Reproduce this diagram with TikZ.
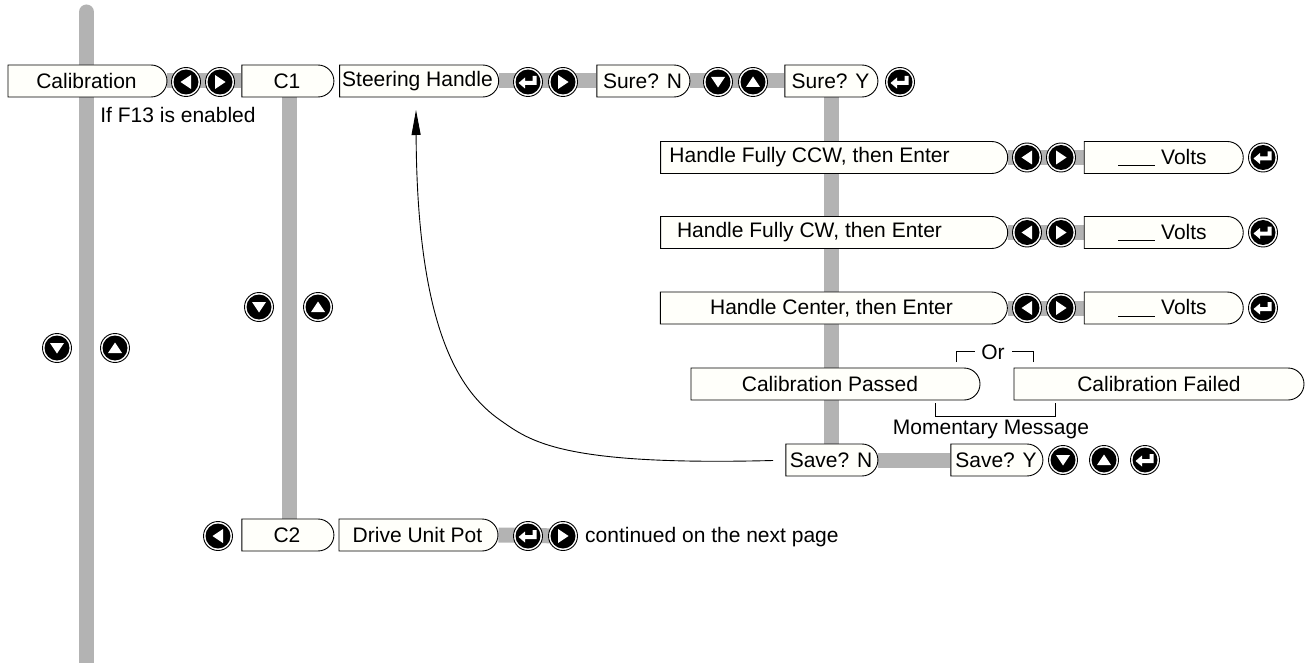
\documentclass[tikz,border=0pt]{standalone}
\usepackage{fontspec}
\setmainfont{Liberation Sans}
\usetikzlibrary{shapes.misc,backgrounds,arrows.meta}
\definecolor{pillfill}{HTML}{FFFFFA}
\definecolor{bargray}{HTML}{B3B3B3}
\tikzset{
  pillbox/.style={rounded rectangle,rounded rectangle left arc=none,draw=black,line width=0.9pt,fill=pillfill,inner sep=0pt,align=center},
  btnbox/.style={circle,draw=black,line width=0.9pt,fill=white,minimum size=29pt,inner sep=0pt},
  bar/.style={draw=bargray,line width=15pt},
  lbl/.style={inner sep=0pt,anchor=center},
  thinline/.style={draw=black,line width=0.8pt}
}
\newcommand{\pill}[6]{% name,x0,x1,ycenter,xoff,text
  \pgfmathsetmacro{\pw}{#3-#2}\pgfmathsetmacro{\pc}{(#2+#3)/2}
  \node[pillbox,minimum width=\pw pt,minimum height=32pt] (#1) at (\pc,#4) {\hspace*{#5pt}#6};}
\newcommand{\btn}[4]{% name,x,y,kind
  \node[btnbox] (#1) at (#2,#3) {};
  \fill[black] (#1.center) circle (12.5);
  \begin{scope}[shift={(#1.center)}]
  \ifcase#4
    \fill[white] (5,-7) -- (5,7) -- (-5.5,0) -- cycle;
  \or
    \fill[white] (-5,-7) -- (-5,7) -- (5.5,0) -- cycle;
  \or
    \fill[white] (-7,-5) -- (7,-5) -- (0,5.5) -- cycle;
  \or
    \fill[white] (-7,5) -- (7,5) -- (0,-5.5) -- cycle;
  \or
    \fill[white] (8.5,-6) -- (8.5,3) -- (-3,3) -- (-3,6.5) -- (-9.5,1) -- (-3,-4.5) -- (-3,-1) -- (4.5,-1) -- (4.5,-6) -- cycle;
  \fi
  \end{scope}}
\begin{document}
\begin{tikzpicture}[x=1pt,y=-1pt,font=\fontsize{21}{24}\selectfont]
\useasboundingbox (0,0) rectangle (1306,663);
% pills
\pill{cal}{7}{166}{81}{0}{Calibration}
\pill{cone}{241}{333}{81}{0}{C1}
\pill{steer}{338}{497}{81}{0}{\raisebox{3pt}{Steering Handle}}
\pill{suren}{596}{689}{81}{0}{Sure? N}
\pill{surey}{784}{877}{81}{0}{Sure? Y}
\pill{ccw}{659}{1006}{157.5}{-46}{\raisebox{-1pt}{Handle Fully CCW, then Enter}}
\pill{vone}{1083}{1242}{157.5}{0}{\underline{\hspace{37pt}} Volts}
\pill{cw}{659}{1006}{232.5}{-46}{\raisebox{-1pt}{Handle Fully CW, then Enter}}
\pill{vtwo}{1083}{1242}{232.5}{0}{\underline{\hspace{37pt}} Volts}
\pill{cen}{659}{1006}{308}{-2}{\raisebox{-1pt}{Handle Center, then Enter}}
\pill{vthree}{1083}{1242}{308}{0}{\underline{\hspace{37pt}} Volts}
\pill{pass}{690}{979}{384}{-9}{Calibration Passed}
\pill{fail}{1013}{1303}{384}{2}{Calibration Failed}
\pill{saven}{785}{877}{460}{0}{Save? N}
\pill{savey}{950}{1042}{460}{0}{Save? Y}
\pill{ctwo}{241}{333}{535}{0}{C2}
\pill{drive}{338}{497}{535}{0}{Drive Unit Pot}
% buttons
\btn{ba}{186}{82}{0}\btn{bb}{220}{82}{1}
\btn{bc}{528}{82}{4}\btn{bd}{563}{82}{1}
\btn{be}{718}{82}{2}\btn{bf}{753}{82}{3}
\btn{bg}{900}{82}{4}
\btn{bh}{1027}{157.5}{0}\btn{bi}{1061}{157.5}{1}\btn{bj}{1263}{157.5}{4}
\btn{bk}{1027}{232.5}{0}\btn{bl}{1061}{232.5}{1}\btn{bm}{1263}{232.5}{4}
\btn{bn}{1027}{308}{0}\btn{bo}{1061}{308}{1}\btn{bp}{1263}{308}{4}
\btn{bq}{1063}{460}{2}\btn{br}{1104}{460}{3}\btn{bs}{1145}{460}{4}
\btn{bt}{218}{536}{0}\btn{bu}{528}{536}{4}\btn{bv}{563}{536}{1}
\btn{bw}{57}{348}{2}\btn{bx}{115}{348}{3}
\btn{by}{259}{307}{2}\btn{bz}{318}{307}{3}
% labels
\node[lbl] (lf) at (178,115) {If F13 is enabled};
\node[lbl,anchor=west] (lc) at (585,537) {continued on the next page};
\node[lbl] (lo) at (993,352) {Or};
\node[lbl] (lm) at (991,429) {Momentary Message};
% bracket lines
\coordinate (ola) at (956,362);\coordinate (olb) at (956,351);\coordinate (olc) at (975,351);
\coordinate (ora) at (1033,362);\coordinate (orb) at (1033,351);\coordinate (orc) at (1012,351);
\draw[thinline] (ola) -- (olb) -- (olc);
\draw[thinline] (ora) -- (orb) -- (orc);
\coordinate (ma) at (935,403);\coordinate (mb) at (1055,403);
\coordinate (mc) at (935,416);\coordinate (md) at (1055,416);
\draw[thinline] (ma) -- (mc) -- (md) -- (mb);
% return arrow
\coordinate (rs) at (773,460.5);
\coordinate (rm) at (500,420);
\coordinate (re) at (416,110);
\draw[line width=0.9pt,-{Triangle[length=25pt,width=9pt]}] (rs) .. controls (560,466) and (530,441) .. (rm) .. controls (460,392) and (417,330) .. (re);
% bars
\begin{scope}[on background layer]
\coordinate (topa) at (86.5,12);\coordinate (bota) at (86.5,663);
\draw[bar,line cap=round] (topa) -- (bota);
\coordinate (cbt) at (289.5,97);\coordinate (cbb) at (289.5,519);
\draw[bar] (cbt) -- (cbb);
\draw[bar] (cal.east) -- (cone.west);
\draw[bar] (steer.east) -- (suren.west);
\draw[bar] (suren.east) -- (surey.west);
\coordinate (sbt) at (831,97);\coordinate (sbb) at (831,444);
\draw[bar] (sbt) -- (sbb);
\draw[bar] (ccw.east) -- (vone.west);
\draw[bar] (cw.east) -- (vtwo.west);
\draw[bar] (cen.east) -- (vthree.west);
\draw[bar] (saven.east) -- (savey.west);
\draw[bar] (drive.east) -- (bv.center);
\end{scope}
\end{tikzpicture}
\end{document}
